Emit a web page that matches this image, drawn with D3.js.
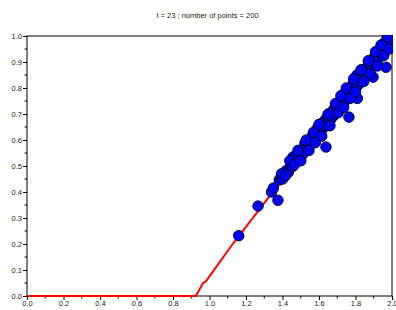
<!DOCTYPE html>
<html>
<head>
<meta charset="utf-8">
<script src="https://cdn.jsdelivr.net/npm/d3@7"></script>
<style>
  body { margin: 0; background: #fff; }
  text { font-family: "Liberation Sans", Arial, sans-serif; }
</style>
</head>
<body>
<svg id="chart" width="396" height="310"></svg>
<script>
const title = "t = 23 ; number of points = 200";

// exact solution (red line)
const lineX = [0, 0.925, 0.965, 0.98, 1.123, 2.0];
const lineY = [0, 0, 0.05, 0.056, 0.196, 0.998];

// particle positions (blue dots)
const pointX = [1.160, 1.266, 1.340, 1.350, 1.375, 1.382, 1.392, 1.400, 1.420, 1.432,
  1.445, 1.455, 1.458, 1.470, 1.478, 1.490, 1.496, 1.505, 1.512, 1.520,
  1.523, 1.535, 1.540, 1.548, 1.555, 1.560, 1.566, 1.572, 1.578, 1.585,
  1.590, 1.595, 1.602, 1.608, 1.612, 1.620, 1.625, 1.632, 1.638, 1.640,
  1.646, 1.652, 1.658, 1.662, 1.671, 1.675, 1.682, 1.688, 1.694, 1.700,
  1.706, 1.712, 1.718, 1.724, 1.730, 1.736, 1.742, 1.748, 1.754, 1.760,
  1.764, 1.768, 1.774, 1.780, 1.786, 1.792, 1.798, 1.808, 1.810, 1.815,
  1.822, 1.828, 1.835, 1.840, 1.848, 1.854, 1.860, 1.866, 1.872, 1.878,
  1.885, 1.890, 1.896, 1.900, 1.906, 1.912, 1.918, 1.925, 1.930, 1.936,
  1.942, 1.950, 1.954, 1.960, 1.967, 1.966, 1.972, 1.978, 1.984, 1.990,
  1.996, 1.998,
  1.395, 1.415, 1.440, 1.465, 1.485, 1.500, 1.530, 1.545, 1.570, 1.580,
  1.600, 1.615, 1.650, 1.660, 1.690, 1.705, 1.720, 1.735, 1.750, 1.770,
  1.790, 1.800, 1.830, 1.845, 1.870, 1.880, 1.910, 1.920, 1.940, 1.955,
  1.975, 1.985];
const pointY = [0.232, 0.346, 0.400, 0.415, 0.368, 0.446, 0.458, 0.450, 0.482, 0.476,
  0.505, 0.498, 0.535, 0.522, 0.540, 0.525, 0.552, 0.540, 0.566, 0.553,
  0.588, 0.570, 0.588, 0.576, 0.604, 0.590, 0.618, 0.600, 0.626, 0.612,
  0.638, 0.650, 0.628, 0.654, 0.636, 0.665, 0.648, 0.676, 0.573, 0.656,
  0.688, 0.670, 0.696, 0.678, 0.708, 0.690, 0.718, 0.700, 0.730, 0.714,
  0.742, 0.722, 0.752, 0.736, 0.762, 0.744, 0.781, 0.758, 0.786, 0.766,
  0.688, 0.796, 0.778, 0.808, 0.790, 0.820, 0.800, 0.850, 0.760, 0.812,
  0.842, 0.826, 0.856, 0.836, 0.866, 0.848, 0.878, 0.858, 0.890, 0.870,
  0.904, 0.882, 0.842, 0.915, 0.894, 0.928, 0.906, 0.940, 0.918, 0.952,
  0.930, 0.965, 0.942, 0.975, 0.880, 0.952, 0.985, 0.962, 0.995, 0.975,
  1.005, 0.985,
  0.470, 0.462, 0.520, 0.505, 0.560, 0.520, 0.600, 0.560, 0.630, 0.590,
  0.660, 0.615, 0.700, 0.655, 0.740, 0.705, 0.770, 0.725, 0.800, 0.760,
  0.835, 0.785, 0.870, 0.825, 0.905, 0.855, 0.940, 0.885, 0.965, 0.925,
  0.998, 0.950];

const xTicks = [0, 0.2, 0.4, 0.6, 0.8, 1.0, 1.2, 1.4, 1.6, 1.8, 2.0];
const yTicks = [0, 0.1, 0.2, 0.3, 0.4, 0.5, 0.6, 0.7, 0.8, 0.9, 1.0];

const margin = {top: 36, right: 4, bottom: 14, left: 27};
const W = 396, H = 310;
const width = W - margin.left - margin.right;
const height = H - margin.top - margin.bottom;

const svg = d3.select("#chart");

const x = d3.scaleLinear().domain([0, 2]).range([0, width]);
const y = d3.scaleLinear().domain([0, 1]).range([height, 0]);

svg.append("text")
    .attr("x", margin.left + width / 2 - 2)
    .attr("y", 18)
    .attr("text-anchor", "middle")
    .attr("font-size", 7.5)
    .attr("fill", "#222")
    .text(title);

const g = svg.append("g").attr("transform", `translate(${margin.left},${margin.top})`);

g.append("clipPath").attr("id", "clip")
  .append("rect").attr("x", -1).attr("y", -1).attr("width", width + 2).attr("height", height + 2);

// minor ticks
const xMinor = d3.range(0.1, 2, 0.2);
const yMinor = d3.range(0.05, 1, 0.1);
g.append("g").selectAll("line").data(xMinor).join("line")
    .attr("x1", d => x(d)).attr("x2", d => x(d))
    .attr("y1", height).attr("y2", height + 2.5)
    .attr("stroke", "#000");
g.append("g").selectAll("line").data(yMinor).join("line")
    .attr("x1", -2.5).attr("x2", 0)
    .attr("y1", d => y(d)).attr("y2", d => y(d))
    .attr("stroke", "#000");

const xAxis = g.append("g").attr("transform", `translate(0,${height})`)
    .call(d3.axisBottom(x).tickValues(xTicks).tickFormat(d3.format(".1f")).tickSize(4).tickSizeOuter(0));
const yAxis = g.append("g")
    .call(d3.axisLeft(y).tickValues(yTicks).tickFormat(d3.format(".1f")).tickSize(4).tickSizeOuter(0));
[xAxis, yAxis].forEach(a => {
  a.select(".domain").remove();
  a.selectAll("text").attr("font-size", 7.5).attr("fill", "#222")
    .style("font-family", "Liberation Sans, Arial, sans-serif");
});
xAxis.selectAll("text").attr("dy", "0.9em").attr("y", 3);
yAxis.selectAll("text").attr("x", -5);

// frame
g.append("rect")
    .attr("width", width).attr("height", height)
    .attr("fill", "none").attr("stroke", "#000").attr("stroke-width", 1);

const plot = g.append("g").attr("clip-path", "url(#clip)");

const linePts = lineX.map((d, i) => [d, lineY[i]]);
plot.append("path")
    .datum(linePts)
    .attr("d", d3.line().x(d => x(d[0])).y(d => y(d[1])))
    .attr("fill", "none")
    .attr("stroke", "#ff0000")
    .attr("stroke-width", 2);

const pts = pointX.map((d, i) => [d, pointY[i]]);
plot.append("g").selectAll("circle").data(pts).join("circle")
    .attr("cx", d => x(d[0]))
    .attr("cy", d => y(d[1]))
    .attr("r", 5.3)
    .attr("fill", "#0000ff")
    .attr("stroke", "#000")
    .attr("stroke-width", 0.8);
</script>
</body>
</html>
